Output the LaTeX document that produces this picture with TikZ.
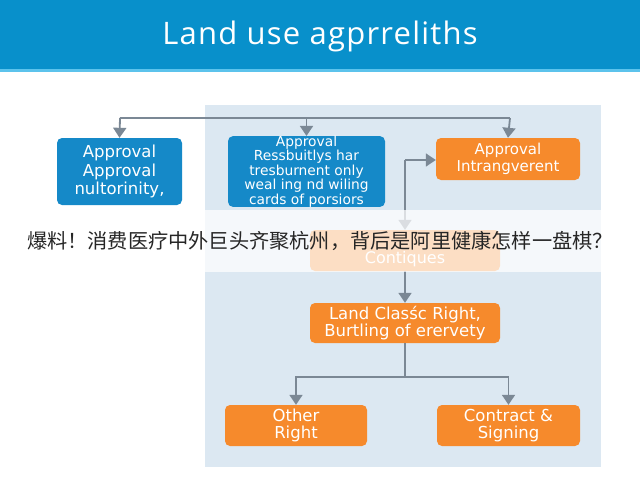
\documentclass[tikz,border=0pt]{standalone}
\usepackage{fontspec}
\setmainfont{DejaVu Sans}
\newfontfamily\titlefont[LetterSpace=4]{Open Sans}
\newfontfamily\cjk{Noto Sans CJK SC}
\usetikzlibrary{arrows.meta}
\definecolor{hdrblue}{HTML}{0890CB}
\definecolor{hdrline}{HTML}{5CC3EC}
\definecolor{panel}{HTML}{DCE8F2}
\definecolor{boxblue}{HTML}{1589C8}
\definecolor{boxorange}{HTML}{F68A2C}
\definecolor{conn}{HTML}{7B8895}
\tikzset{
  bluebox/.style={fill=boxblue, rounded corners=5pt, text=white, align=center, inner sep=0pt},
  orangebox/.style={fill=boxorange, rounded corners=5pt, text=white, align=center, inner sep=0pt},
  link/.style={draw=conn, line width=1.8pt},
  tip/.style={-{Triangle[width=13pt,length=10pt]}},
}
\begin{document}
\begin{tikzpicture}[x=1pt,y=-1pt]
\useasboundingbox (0,0) rectangle (640,480);
\fill[white] (0,0) rectangle (640,480);
% header
\fill[hdrblue] (0,0) rectangle (640,69);
\fill[hdrline] (0,69) rectangle (640,71.5);
\node[text=white, font=\titlefont\fontsize{31}{34}\selectfont] (title) at (320,36) {Land use agprreliths};
% panel
\fill[panel] (205,105) rectangle (601,467);
% boxes
\node[bluebox, minimum width=125pt, minimum height=67pt, font=\fontsize{16.5}{18.5}\selectfont] (b1) at (119.5,171.5) {Approval\\Approval\\nultorinity,};
\node[bluebox, minimum width=157pt, minimum height=67pt, font=\fontsize{13.8}{12.3}\selectfont] (b2) at (306.5,171.5) {Approval\\Ressbuitlys har\\tresburnent only\\weal ing nd wiling\\cards of porsiors};
\node[orangebox, minimum width=144pt, minimum height=42pt, font=\fontsize{15}{17}\selectfont] (b3) at (508,159) {Approval\\Intrangverent};
\node[orangebox, minimum width=190pt, minimum height=41pt, font=\fontsize{16}{17}\selectfont] (b4) at (405,250.5) {\strut\\Contiques};
\node[orangebox, minimum width=190pt, minimum height=40pt, font=\fontsize{16.5}{17.5}\selectfont] (b5) at (405,323) {Land Clasśc Right,\\Burtling of erervety};
\node[orangebox, minimum width=142pt, minimum height=41pt, font=\fontsize{16.5}{17.5}\selectfont] (b6) at (296,425.5) {Other\\Right};
\node[orangebox, minimum width=143pt, minimum height=41pt, font=\fontsize{16.5}{17.5}\selectfont] (b7) at (508.5,425.5) {Contract \&\\Signing};
% top bus
\coordinate (busL) at (120,118);
\coordinate (busR) at (510,118);
\draw[link] (busL) -- (busR);
\draw[link,tip] (busL) -- (b1.north);
\draw[link,tip] (b2.north |- busL) -- (b2.north);
\draw[link,tip] (busR) -- (b3.north);
% feedback link
\coordinate (fb) at (405,160);
\draw[link,tip] (fb) -- (b3.west |- fb);
\draw[link,tip] (fb) -- (b4.north);
% down
\draw[link,tip] (b4.south) -- (b5.north);
\coordinate (split) at (405,377);
\draw[link] (b5.south) -- (split);
\draw[link,tip] (split) -| (b6.north);
\draw[link,tip] (split) -| (b7.north);
% overlay band
\fill[white, opacity=0.72] (0,210) rectangle (640,272);
\node[text=black!85, font=\cjk\fontsize{20.2}{24}\selectfont] (cap) at (320,241) {爆料！消费医疗中外巨头齐聚杭州，背后是阿里健康怎样一盘棋？};
\end{tikzpicture}
\end{document}
